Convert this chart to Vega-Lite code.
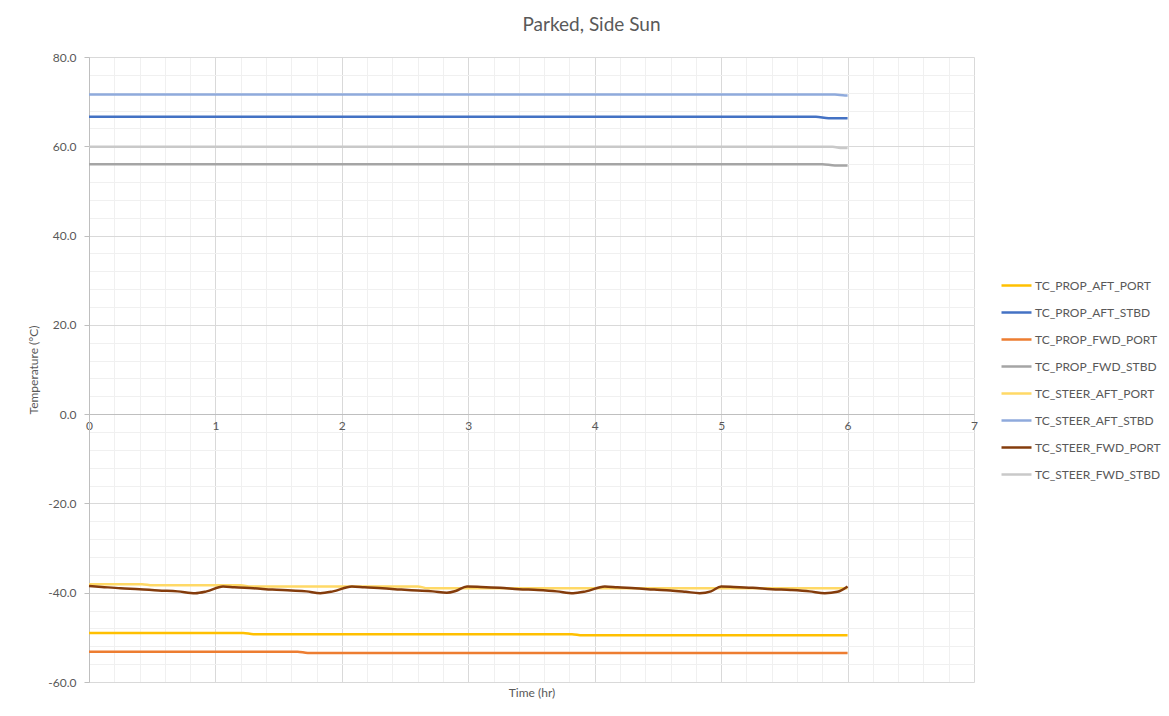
{
  "$schema": "https://vega.github.io/schema/vega-lite/v6.json",
  "width": 885,
  "height": 625,
  "autosize": {"type": "none"},
  "padding": {"left": 89, "top": 57, "right": 195, "bottom": 34},
  "background": "white",
  "title": {"text": "Parked, Side Sun", "fontSize": 19, "font": "Lato", "fontWeight": "normal", "color": "#595959", "anchor": "middle", "frame": "group", "dx": 60, "offset": 16},
  "config": {"view": {"stroke": null}, "font": "Lato"},
  "data": {"values": [
    {"s": "TC_PROP_AFT_PORT", "t": 0, "v": -49.0},
    {"s": "TC_PROP_AFT_PORT", "t": 1.22, "v": -49.0},
    {"s": "TC_PROP_AFT_PORT", "t": 1.3, "v": -49.3},
    {"s": "TC_PROP_AFT_PORT", "t": 3.82, "v": -49.3},
    {"s": "TC_PROP_AFT_PORT", "t": 3.9, "v": -49.55},
    {"s": "TC_PROP_AFT_PORT", "t": 6, "v": -49.55},
    {"s": "TC_PROP_AFT_STBD", "t": 0, "v": 66.6},
    {"s": "TC_PROP_AFT_STBD", "t": 5.75, "v": 66.6},
    {"s": "TC_PROP_AFT_STBD", "t": 5.85, "v": 66.3},
    {"s": "TC_PROP_AFT_STBD", "t": 6, "v": 66.3},
    {"s": "TC_PROP_FWD_PORT", "t": 0, "v": -53.2},
    {"s": "TC_PROP_FWD_PORT", "t": 1.65, "v": -53.2},
    {"s": "TC_PROP_FWD_PORT", "t": 1.73, "v": -53.5},
    {"s": "TC_PROP_FWD_PORT", "t": 6, "v": -53.5},
    {"s": "TC_PROP_FWD_STBD", "t": 0, "v": 56.0},
    {"s": "TC_PROP_FWD_STBD", "t": 5.8, "v": 56.0},
    {"s": "TC_PROP_FWD_STBD", "t": 5.9, "v": 55.7},
    {"s": "TC_PROP_FWD_STBD", "t": 6, "v": 55.7},
    {"s": "TC_STEER_AFT_PORT", "t": 0, "v": -38.1},
    {"s": "TC_STEER_AFT_PORT", "t": 0.42, "v": -38.1},
    {"s": "TC_STEER_AFT_PORT", "t": 0.5, "v": -38.35},
    {"s": "TC_STEER_AFT_PORT", "t": 1.2, "v": -38.35},
    {"s": "TC_STEER_AFT_PORT", "t": 1.28, "v": -38.6},
    {"s": "TC_STEER_AFT_PORT", "t": 2.6, "v": -38.6},
    {"s": "TC_STEER_AFT_PORT", "t": 2.68, "v": -39.0},
    {"s": "TC_STEER_AFT_PORT", "t": 6, "v": -39.0},
    {"s": "TC_STEER_AFT_STBD", "t": 0, "v": 71.6},
    {"s": "TC_STEER_AFT_STBD", "t": 5.9, "v": 71.6},
    {"s": "TC_STEER_AFT_STBD", "t": 5.98, "v": 71.4},
    {"s": "TC_STEER_AFT_STBD", "t": 6, "v": 71.4},
    {"s": "TC_STEER_FWD_PORT", "t": 0.0, "v": -38.5},
    {"s": "TC_STEER_FWD_PORT", "t": 0.1, "v": -38.7},
    {"s": "TC_STEER_FWD_PORT", "t": 0.25, "v": -39.0},
    {"s": "TC_STEER_FWD_PORT", "t": 0.4, "v": -39.2},
    {"s": "TC_STEER_FWD_PORT", "t": 0.55, "v": -39.5},
    {"s": "TC_STEER_FWD_PORT", "t": 0.7, "v": -39.7},
    {"s": "TC_STEER_FWD_PORT", "t": 0.84, "v": -40.1},
    {"s": "TC_STEER_FWD_PORT", "t": 0.93, "v": -39.7},
    {"s": "TC_STEER_FWD_PORT", "t": 1.06, "v": -38.6},
    {"s": "TC_STEER_FWD_PORT", "t": 1.15, "v": -38.8},
    {"s": "TC_STEER_FWD_PORT", "t": 1.3, "v": -39.0},
    {"s": "TC_STEER_FWD_PORT", "t": 1.45, "v": -39.3},
    {"s": "TC_STEER_FWD_PORT", "t": 1.6, "v": -39.5},
    {"s": "TC_STEER_FWD_PORT", "t": 1.72, "v": -39.7},
    {"s": "TC_STEER_FWD_PORT", "t": 1.83, "v": -40.1},
    {"s": "TC_STEER_FWD_PORT", "t": 1.93, "v": -39.7},
    {"s": "TC_STEER_FWD_PORT", "t": 2.08, "v": -38.6},
    {"s": "TC_STEER_FWD_PORT", "t": 2.18, "v": -38.8},
    {"s": "TC_STEER_FWD_PORT", "t": 2.32, "v": -39.0},
    {"s": "TC_STEER_FWD_PORT", "t": 2.47, "v": -39.3},
    {"s": "TC_STEER_FWD_PORT", "t": 2.6, "v": -39.5},
    {"s": "TC_STEER_FWD_PORT", "t": 2.72, "v": -39.7},
    {"s": "TC_STEER_FWD_PORT", "t": 2.83, "v": -40.0},
    {"s": "TC_STEER_FWD_PORT", "t": 2.9, "v": -39.6},
    {"s": "TC_STEER_FWD_PORT", "t": 2.99, "v": -38.6},
    {"s": "TC_STEER_FWD_PORT", "t": 3.1, "v": -38.7},
    {"s": "TC_STEER_FWD_PORT", "t": 3.25, "v": -38.9},
    {"s": "TC_STEER_FWD_PORT", "t": 3.4, "v": -39.2},
    {"s": "TC_STEER_FWD_PORT", "t": 3.55, "v": -39.4},
    {"s": "TC_STEER_FWD_PORT", "t": 3.7, "v": -39.7},
    {"s": "TC_STEER_FWD_PORT", "t": 3.83, "v": -40.1},
    {"s": "TC_STEER_FWD_PORT", "t": 3.93, "v": -39.7},
    {"s": "TC_STEER_FWD_PORT", "t": 4.08, "v": -38.6},
    {"s": "TC_STEER_FWD_PORT", "t": 4.18, "v": -38.8},
    {"s": "TC_STEER_FWD_PORT", "t": 4.32, "v": -39.0},
    {"s": "TC_STEER_FWD_PORT", "t": 4.47, "v": -39.3},
    {"s": "TC_STEER_FWD_PORT", "t": 4.6, "v": -39.5},
    {"s": "TC_STEER_FWD_PORT", "t": 4.72, "v": -39.8},
    {"s": "TC_STEER_FWD_PORT", "t": 4.83, "v": -40.1},
    {"s": "TC_STEER_FWD_PORT", "t": 4.92, "v": -39.7},
    {"s": "TC_STEER_FWD_PORT", "t": 5.0, "v": -38.6},
    {"s": "TC_STEER_FWD_PORT", "t": 5.1, "v": -38.7},
    {"s": "TC_STEER_FWD_PORT", "t": 5.25, "v": -38.9},
    {"s": "TC_STEER_FWD_PORT", "t": 5.4, "v": -39.2},
    {"s": "TC_STEER_FWD_PORT", "t": 5.55, "v": -39.4},
    {"s": "TC_STEER_FWD_PORT", "t": 5.7, "v": -39.7},
    {"s": "TC_STEER_FWD_PORT", "t": 5.82, "v": -40.1},
    {"s": "TC_STEER_FWD_PORT", "t": 5.92, "v": -39.8},
    {"s": "TC_STEER_FWD_PORT", "t": 6.0, "v": -38.6},
    {"s": "TC_STEER_FWD_STBD", "t": 0, "v": 59.9},
    {"s": "TC_STEER_FWD_STBD", "t": 5.88, "v": 59.9},
    {"s": "TC_STEER_FWD_STBD", "t": 5.96, "v": 59.6},
    {"s": "TC_STEER_FWD_STBD", "t": 6, "v": 59.6}
  ]},
  "resolve": {"axis": {"x": "independent", "y": "independent"}},
  "layer": [
    {
      "mark": {"type": "line", "interpolate": "monotone", "strokeWidth": 2.5},
      "encoding": {
        "x": {"field": "t", "type": "quantitative",
          "scale": {"domain": [0, 7], "nice": false, "zero": false},
          "axis": {"orient": "bottom", "values": [0,0.2,0.4,0.6,0.8,1,1.2,1.4,1.6,1.8,2,2.2,2.4,2.6,2.8,3,3.2,3.4,3.6,3.8,4,4.2,4.4,4.6,4.8,5,5.2,5.4,5.6,5.8,6,6.2,6.4,6.6,6.8,7],
            "grid": true, "gridColor": "#F0F0F0", "gridWidth": 1, "labels": false, "ticks": false, "domain": false,
            "title": "Time (hr)", "titleFontSize": 12, "titleFontWeight": "normal", "titleColor": "#595959", "titlePadding": 5, "titleFont": "Lato"}},
        "y": {"field": "v", "type": "quantitative",
          "scale": {"domain": [-60, 80], "nice": false, "zero": false},
          "axis": {"orient": "left", "values": [-60,-56,-52,-48,-44,-40,-36,-32,-28,-24,-20,-16,-12,-8,-4,0,4,8,12,16,20,24,28,32,36,40,44,48,52,56,60,64,68,72,76,80],
            "grid": true, "gridColor": "#F0F0F0", "gridWidth": 1, "labels": false, "ticks": false, "domain": false, "title": null}},
        "color": {"field": "s", "type": "nominal",
          "scale": {"domain": ["TC_PROP_AFT_PORT","TC_PROP_AFT_STBD","TC_PROP_FWD_PORT","TC_PROP_FWD_STBD","TC_STEER_AFT_PORT","TC_STEER_AFT_STBD","TC_STEER_FWD_PORT","TC_STEER_FWD_STBD"],
            "range": ["#FFC000","#4472C4","#ED7D31","#A5A5A5","#FFD966","#8FAADC","#843C0C","#C9C9C9"]},
          "legend": {"title": null, "orient": "none", "legendX": 911, "legendY": 212, "symbolType": "stroke", "symbolSize": 900, "symbolStrokeWidth": 2.5,
            "labelFontSize": 12, "labelColor": "#595959", "labelFont": "Lato", "rowPadding": 4, "labelOffset": 2}}
      }
    },
    {
      "mark": {"type": "line", "opacity": 0},
      "encoding": {
        "x": {"field": "t", "type": "quantitative",
          "axis": {"orient": "bottom", "offset": -268, "values": [0,1,2,3,4,5,6,7], "format": "d", "labelFlush": false,
            "grid": true, "gridColor": "#D9D9D9", "gridWidth": 1, "domainColor": "#BFBFBF", "ticks": false,
            "labelPadding": 6, "labelFontSize": 12, "labelColor": "#595959", "labelFont": "Lato", "title": null}},
        "y": {"field": "v", "type": "quantitative",
          "axis": {"orient": "left", "values": [-60,-40,-20,0,20,40,60,80], "format": ".1f",
            "labelExpr": "replace(datum.label, '−', '-')",
            "grid": true, "gridColor": "#D9D9D9", "gridWidth": 1, "domainColor": "#BFBFBF", "tickColor": "#BFBFBF", "tickSize": 5,
            "labelPadding": 8, "labelFontSize": 12, "labelColor": "#595959", "labelFont": "Lato",
            "title": "Temperature (°C)", "titleFontSize": 12, "titleFontWeight": "normal", "titleColor": "#595959", "titleFont": "Lato", "titlePadding": 7}},
        "detail": {"field": "s"}
      }
    }
  ]
}
